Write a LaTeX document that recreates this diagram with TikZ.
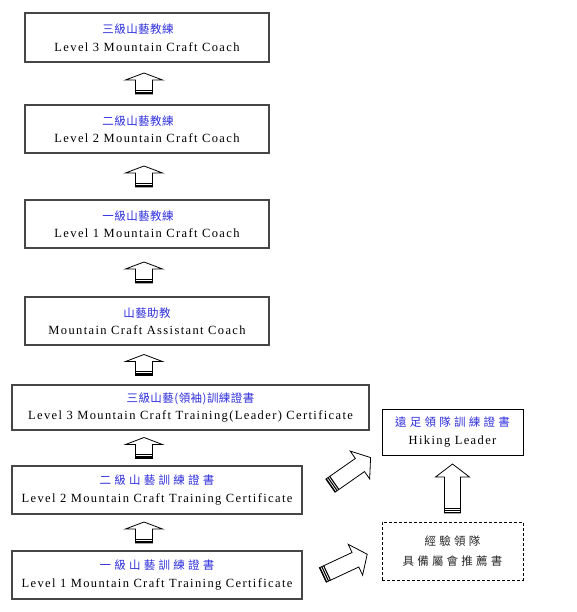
\documentclass[tikz,border=0pt]{standalone}
\usepackage{fontspec}
\setmainfont{Liberation Serif}[LetterSpace=11]
\newfontfamily\zhtight{Noto Sans CJK TC}[LetterSpace=4]
\newfontfamily\zhwide{Noto Sans CJK TC}[LetterSpace=28]
\usetikzlibrary{calc}
\definecolor{zhblue}{RGB}{48,48,220}
\definecolor{edge}{RGB}{70,70,70}
\definecolor{ink}{RGB}{40,40,40}
\newcommand\zhA[1]{{\zhtight\fontsize{11.5}{17.5}\selectfont\color{zhblue}#1}}
\newcommand\zhB[1]{{\zhwide\fontsize{11.5}{17.5}\selectfont\color{zhblue}#1}}
\newcommand\zhC[1]{{\zhwide\fontsize{11.5}{19.5}\selectfont\color{ink}#1}}

\begin{document}
\begin{tikzpicture}[x=1pt,y=-1pt,
		smallup/.pic={
			\filldraw[fill=white, line width=0.8pt] (-10.5,-8.5) -- (3.5,-8.5) -- (3.5,-18.5) -- (10.5,0) -- (3.5,18.5) -- (3.5,8.5) -- (-10.5,8.5) -- cycle;
			\draw[line width=2.2pt] (-9.4,-8.5) -- (-9.4,8.5);
			\draw[line width=0.8pt] (-6.6,-8.5) -- (-6.6,8.5);
		},
		bigup/.pic={
			\filldraw[fill=white, line width=0.8pt] (-24.5,-8) -- (11.5,-8) -- (11.5,-17) -- (24.5,0) -- (11.5,17) -- (11.5,8) -- (-24.5,8) -- cycle;
			\foreach \t in {-24,-21.9,-19.8}
				\draw[line width=1.1pt] (\t,-8) -- (\t,8);
		}]
				\tikzstyle{every node}=[inner sep=0pt, align=center, font=\fontsize{12.5}{17.5}\selectfont]
				\tikzstyle{box}=[draw=edge, line width=1.2pt, fill=white]
				\useasboundingbox (0,0) rectangle (576,612);
				\node[box, minimum width=244pt, minimum height=49pt] (coach3) at (147,37.5) {\zhA{三級山藝教練}\hspace*{18pt}\\Level 3 Mountain Craft Coach};
				\node[box, minimum width=244pt, minimum height=48pt] (coach2) at (147,129) {\zhA{二級山藝教練}\hspace*{18pt}\\Level 2 Mountain Craft Coach};
				\node[box, minimum width=244pt, minimum height=48pt] (coach1) at (147,224) {\zhA{一級山藝教練}\hspace*{18pt}\\Level 1 Mountain Craft Coach};
				\node[box, minimum width=244pt, minimum height=48pt] (assist) at (147,321) {\zhA{山藝助教}\\Mountain Craft Assistant Coach};
				\node[box, minimum width=357pt, minimum height=45pt] (cert3) at (190.5,407.5) {\zhA{三級山藝(領袖)訓練證書}\\Level 3 Mountain Craft Training(Leader) Certificate};
				\node[box, minimum width=290pt, minimum height=48pt] (cert2) at (157,490) {\zhB{二級山藝訓練證書}\\Level 2 Mountain Craft Training Certificate};
				\node[box, minimum width=290pt, minimum height=48pt] (cert1) at (157,575) {\zhB{一級山藝訓練證書}\\Level 1 Mountain Craft Training Certificate};
				\node[draw, line width=1pt, minimum width=141pt, minimum height=46pt] (hike) at (452.5,432) {\zhB{遠足領隊訓練證書}\\Hiking Leader};
				\node[draw, line width=0.9pt, dash pattern=on 3pt off 2pt, minimum width=141pt, minimum height=58pt, font=\fontsize{11.5}{19.5}\selectfont] (refer) at (452.5,551) {\zhC{經驗領隊}\\\zhC{具備屬會推薦書}};
				\coordinate (spine) at (144,0);
				\foreach \a/\b in {coach3/coach2, coach2/coach1, coach1/assist, assist/cert3, cert3/cert2, cert2/cert1}
					\pic[rotate=90] at ($(spine |- \a.south)!.5!(spine |- \b.north)$) {smallup};
				\pic[rotate=90] at ($(hike.south)!.5!(refer.north)$) {bigup};
				\pic[rotate=35] at (350.5,471.6) {bigup};
				\pic[rotate=25] at (345,564.6) {bigup};
\end{tikzpicture}
\end{document}
